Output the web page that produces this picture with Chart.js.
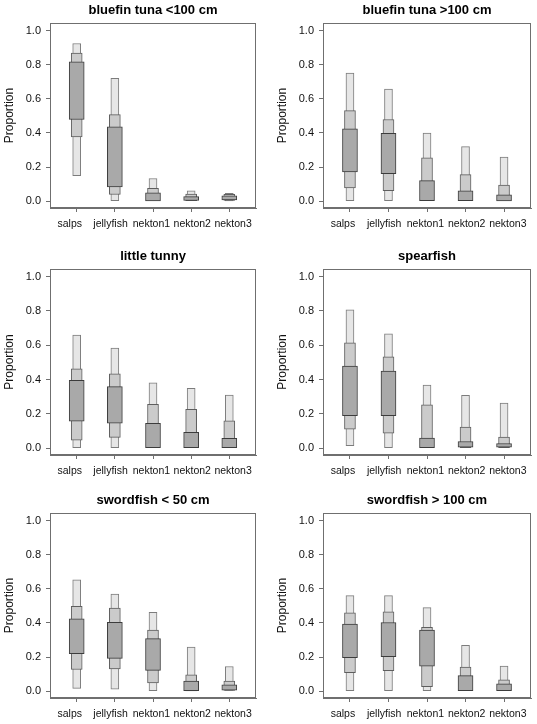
<!DOCTYPE html>
<html><head><meta charset="utf-8">
<script src="https://cdn.jsdelivr.net/npm/chart.js@4.4.0/dist/chart.umd.min.js"></script>
<style>
html,body{margin:0;padding:0;background:#fff;overflow:hidden;width:537px;height:724px;position:relative}
canvas{position:absolute}
</style></head><body>
<canvas id="c0"></canvas><canvas id="c1"></canvas><canvas id="c2"></canvas>
<canvas id="c3"></canvas><canvas id="c4"></canvas><canvas id="c5"></canvas>
<script>
// ---------- data ----------
const categories = ['salps', 'jellyfish', 'nekton1', 'nekton2', 'nekton3'];
const yTickValues = [0, 0.2, 0.4, 0.6, 0.8, 1.0];
const panelTitles = ['bluefin tuna <100 cm', 'bluefin tuna >100 cm', 'little tunny',
                     'spearfish', 'swordfish < 50 cm', 'swordfish > 100 cm'];

// credible intervals [low, high] per category (95%, 75%, 50%)
const bluefinSmall95 = [[0.15, 0.925], [0, 0.72], [0, 0.133], [0, 0.061], [0.002, 0.046]];
const bluefinSmall75 = [[0.377, 0.869], [0.039, 0.508], [0, 0.076], [0, 0.041], [0.004, 0.040]];
const bluefinSmall50 = [[0.479, 0.818], [0.084, 0.436], [0.002, 0.049], [0.004, 0.027], [0.008, 0.032]];

const bluefinLarge95 = [[0, 0.752], [0, 0.658], [0, 0.400], [0, 0.320], [0, 0.258]];
const bluefinLarge75 = [[0.078, 0.531], [0.062, 0.479], [0, 0.254], [0, 0.156], [0, 0.094]];
const bluefinLarge50 = [[0.172, 0.424], [0.162, 0.398], [0, 0.121], [0, 0.061], [0.002, 0.037]];

const littleTunny95 = [[0, 0.659], [0, 0.584], [0, 0.381], [0, 0.349], [0, 0.310]];
const littleTunny75 = [[0.047, 0.463], [0.063, 0.433], [0, 0.255], [0, 0.227], [0, 0.159]];
const littleTunny50 = [[0.157, 0.396], [0.145, 0.359], [0, 0.145], [0, 0.092], [0, 0.057]];

const spearfish95 = [[0.014, 0.807], [0, 0.667], [0, 0.368], [0, 0.308], [0, 0.263]];
const spearfish75 = [[0.111, 0.614], [0.088, 0.532], [0, 0.253], [0, 0.123], [0.003, 0.064]];
const spearfish50 = [[0.189, 0.478], [0.189, 0.450], [0, 0.058], [0.005, 0.039], [0.005, 0.027]];

const swordSmall95 = [[0.016, 0.653], [0.012, 0.569], [0, 0.463], [0.003, 0.259], [0.004, 0.145]];
const swordSmall75 = [[0.127, 0.498], [0.131, 0.488], [0.049, 0.359], [0.002, 0.096], [0.004, 0.059]];
const swordSmall50 = [[0.220, 0.425], [0.192, 0.404], [0.122, 0.308], [0.003, 0.059], [0.006, 0.037]];

const swordLarge95 = [[0, 0.560], [0, 0.560], [0, 0.490], [0, 0.269], [0, 0.147]];
const swordLarge75 = [[0.109, 0.459], [0.120, 0.465], [0.027, 0.374], [0, 0.141], [0, 0.066]];
const swordLarge50 = [[0.196, 0.393], [0.203, 0.403], [0.147, 0.358], [0.003, 0.091], [0.003, 0.043]];

const panelData = [
  [bluefinSmall95, bluefinSmall75, bluefinSmall50],
  [bluefinLarge95, bluefinLarge75, bluefinLarge50],
  [littleTunny95, littleTunny75, littleTunny50],
  [spearfish95, spearfish75, spearfish50],
  [swordSmall95, swordSmall75, swordSmall50],
  [swordLarge95, swordLarge75, swordLarge50]
];

// ---------- layout / style ----------
const panelBoxes = [ // canvas left, top, width, height, left pad, right pad
  {x: 0,   y: 0,   w: 268, h: 234, pl: 0, pr: 12},
  {x: 268, y: 0,   w: 269, h: 234, pl: 5, pr: 6},
  {x: 0,   y: 246, w: 268, h: 235, pl: 0, pr: 12},
  {x: 268, y: 246, w: 269, h: 235, pl: 5, pr: 6},
  {x: 0,   y: 490, w: 268, h: 234, pl: 0, pr: 12},
  {x: 268, y: 490, w: 269, h: 234, pl: 5, pr: 6}
];
const FONT = '"Liberation Sans", Arial, Helvetica, sans-serif';
const AXIS_COLOR = '#6f6f6f';
const levels = [ // drawn top-most first
  {idx: 2, label: '50%', fill: '#a9a9a9', border: '#3c3c3c', width: 15},
  {idx: 1, label: '75%', fill: '#cbcbcb', border: '#5e5e5e', width: 11},
  {idx: 0, label: '95%', fill: '#e6e6e6', border: '#7c7c7c', width: 8}
];

const framePlugin = {
  id: 'frame',
  afterDatasetsDraw(chart) {
    const a = chart.chartArea, ctx = chart.ctx;
    ctx.save();
    ctx.strokeStyle = AXIS_COLOR;
    ctx.lineWidth = 1;
    ctx.strokeRect(Math.round(a.left) + 0.5, Math.round(a.top) + 0.5,
                   Math.round(a.right - a.left) - 1, Math.round(a.bottom - a.top) - 1);
    ctx.restore();
  }
};

panelBoxes.forEach((box, p) => {
  const cv = document.getElementById('c' + p);
  cv.width = box.w; cv.height = box.h;
  cv.style.left = box.x + 'px'; cv.style.top = box.y + 'px';
  cv.style.width = box.w + 'px'; cv.style.height = box.h + 'px';

  const datasets = levels.map(lv => ({
    label: lv.label,
    data: panelData[p][lv.idx].map((r, i) => ({x: i, y: r})),
    backgroundColor: lv.fill,
    borderColor: lv.border,
    borderWidth: 1,
    borderSkipped: false,
    barThickness: lv.width,
    grouped: false
  }));

  new Chart(cv, {
    type: 'bar',
    data: {datasets},
    plugins: [framePlugin],
    options: {
      responsive: false,
      animation: false,
      devicePixelRatio: 1,
      layout: {padding: {left: box.pl, right: box.pr, top: 0, bottom: 0}},
      plugins: {
        legend: {display: false},
        tooltip: {enabled: false},
        title: {
          display: true,
          text: panelTitles[p],
          fullSize: false,
          color: '#000',
          font: {family: FONT, size: 13, weight: 'bold', lineHeight: 1.2},
          padding: {top: 2.5, bottom: 4.9}
        }
      },
      scales: {
        x: {
          type: 'linear',
          offset: false,
          weight: 0,
          min: -0.7, max: 4.7,
          afterBuildTicks: s => { s.ticks = categories.map((c, i) => ({value: i})); },
          afterFit: s => { s.height = 4; },
          ticks: {display: false, autoSkip: false, maxRotation: 0, minRotation: 0},
          grid: {display: true, offset: false, drawOnChartArea: false, drawTicks: true, tickLength: 4, color: AXIS_COLOR},
          border: {display: true, color: AXIS_COLOR}
        },
        xl: { // category label row (labels spread slightly wider than ticks, as in the original)
          type: 'linear',
          position: 'bottom',
          offset: false,
          weight: 1,
          min: -0.483, max: 4.561,
          afterBuildTicks: s => { s.ticks = categories.map((c, i) => ({value: i})); },
          afterFit: s => { s.height = 22; },
          ticks: {
            autoSkip: false, maxRotation: 0, minRotation: 0, padding: 6,
            color: '#111',
            font: {family: FONT, size: 10.5},
            callback: v => categories[v]
          },
          grid: {display: false, drawOnChartArea: false, drawTicks: false, tickLength: 0},
          border: {display: false}
        },
        y: {
          type: 'linear',
          min: -0.04, max: 1.045,
          afterBuildTicks: s => { s.ticks = yTickValues.map(v => ({value: v})); },
          afterFit: s => { s.width = 50; },
          ticks: {
            padding: 5, color: '#111',
            font: {family: FONT, size: 11},
            callback: v => Number(v).toFixed(1)
          },
          grid: {display: true, drawOnChartArea: false, drawTicks: true, tickLength: 4, color: AXIS_COLOR},
          border: {display: true, color: AXIS_COLOR},
          title: {
            display: true, text: 'Proportion', color: '#111',
            font: {family: FONT, size: 12},
            padding: {top: 2, bottom: 0}
          }
        }
      }
    }
  });
});
</script>
</body></html>
